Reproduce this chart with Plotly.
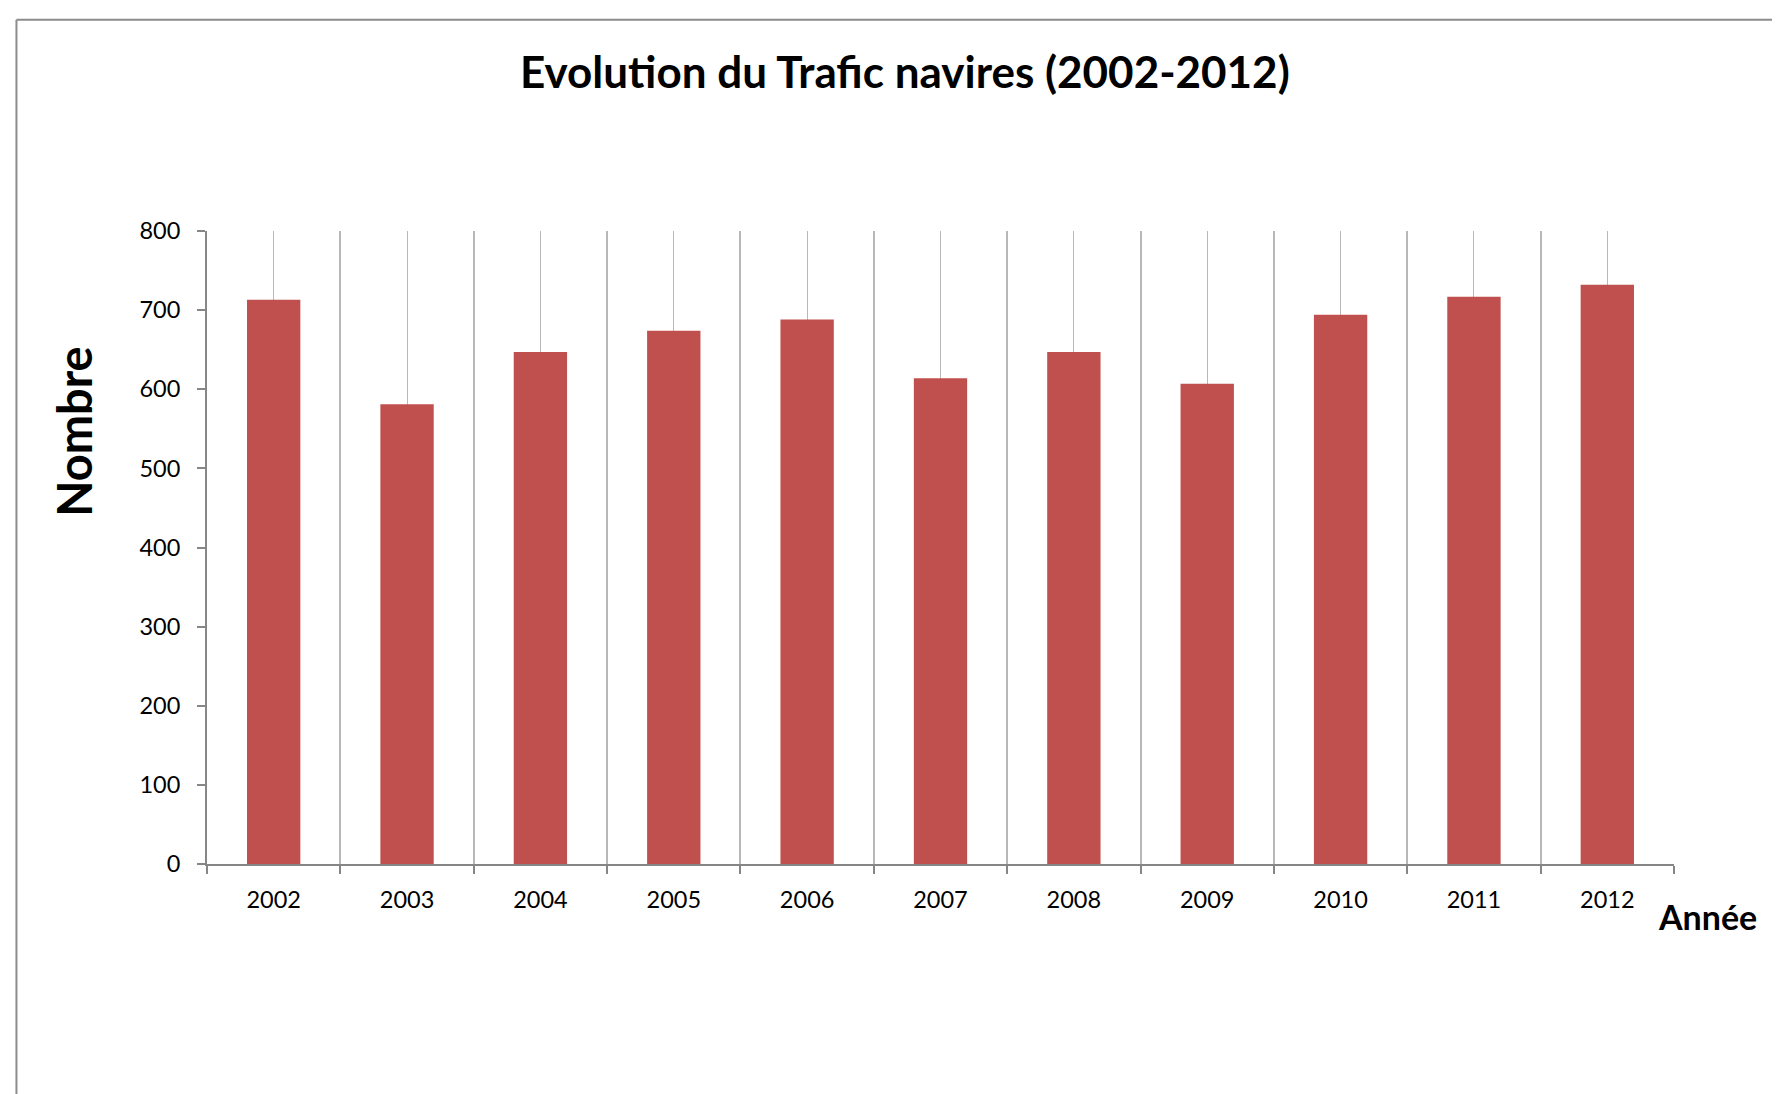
import plotly.graph_objects as go

years = [2002, 2003, 2004, 2005, 2006, 2007, 2008, 2009, 2010, 2011, 2012]
year_labels = [str(y) for y in years]
nombre = [713, 581, 647, 674, 688, 614, 647, 607, 694, 717, 732]
y_ticks = [0, 100, 200, 300, 400, 500, 600, 700, 800]

W, H = 1780, 1094
OFF = 8  # page body margin
# plot area in screen pixels
L, R = 206.6, 1674.0
T, B = 230.5, 864.0

def px(x):
    return (x - L) / (R - L)

def py(y):
    return (B - y) / (B - T)

FONT = "Lato"
AXIS = "#868686"
GRID = "#B8B8B8"
BAR = "#C0504D"

fig = go.Figure()
fig.add_trace(go.Bar(x=years, y=nombre, marker=dict(color=BAR, line=dict(width=0)),
                     width=0.4, hoverinfo="x+y"))

fig.update_layout(
    width=W, height=H,
    margin=dict(l=L - OFF, r=W - (R - OFF), t=T - OFF, b=H - (B - OFF), autoexpand=False),
    paper_bgcolor="white", plot_bgcolor="white",
    showlegend=False,
    font=dict(family=FONT, color="black"),
    xaxis=dict(
        range=[2001.5, 2012.5],
        tickvals=years, ticktext=year_labels,
        ticks="", showgrid=True, gridcolor=GRID, gridwidth=1.3,
        showline=True, linecolor=AXIS, linewidth=2,
        tickfont=dict(family=FONT, size=23.5, color="black"),
        ticklabelstandoff=14,
        minor=dict(tick0=2001.5, dtick=1, ticks="outside", ticklen=8,
                   tickcolor=AXIS, tickwidth=2, showgrid=True,
                   gridcolor=GRID, gridwidth=1.5),
        zeroline=False, fixedrange=True,
    ),
    yaxis=dict(
        range=[0, 800], tickvals=y_ticks,
        ticks="outside", ticklen=8, tickcolor=AXIS, tickwidth=2,
        showgrid=False, zeroline=False,
        showline=True, linecolor=AXIS, linewidth=2,
        tickfont=dict(family=FONT, size=23.5, color="black"),
        ticklabelstandoff=12,
        fixedrange=True,
    ),
    annotations=[
        dict(text="<b>Evolution du Trafic navires (2002-2012)</b>", x=px(905), y=py(70),
             xref="paper", yref="paper", showarrow=False, xanchor="center", yanchor="middle",
             font=dict(family=FONT, size=44, color="black")),
        dict(text="<b>Nombre</b>", x=px(74), y=py(431), textangle=-90,
             xref="paper", yref="paper", showarrow=False, xanchor="center", yanchor="middle",
             font=dict(family=FONT, size=47, color="black")),
        dict(text="<b>Année</b>", x=px(1708), y=py(917),
             xref="paper", yref="paper", showarrow=False, xanchor="center", yanchor="middle",
             font=dict(family=FONT, size=34, color="black")),
    ],
    shapes=[
        dict(type="line", xref="paper", yref="paper", x0=px(16), x1=px(16), y0=py(19), y1=py(1110),
             line=dict(color="#8C8C8C", width=2)),
        dict(type="line", xref="paper", yref="paper", x0=px(16), x1=px(1800), y0=py(19), y1=py(19),
             line=dict(color="#8C8C8C", width=2)),
    ],
)

fig.write_html("out.html")
